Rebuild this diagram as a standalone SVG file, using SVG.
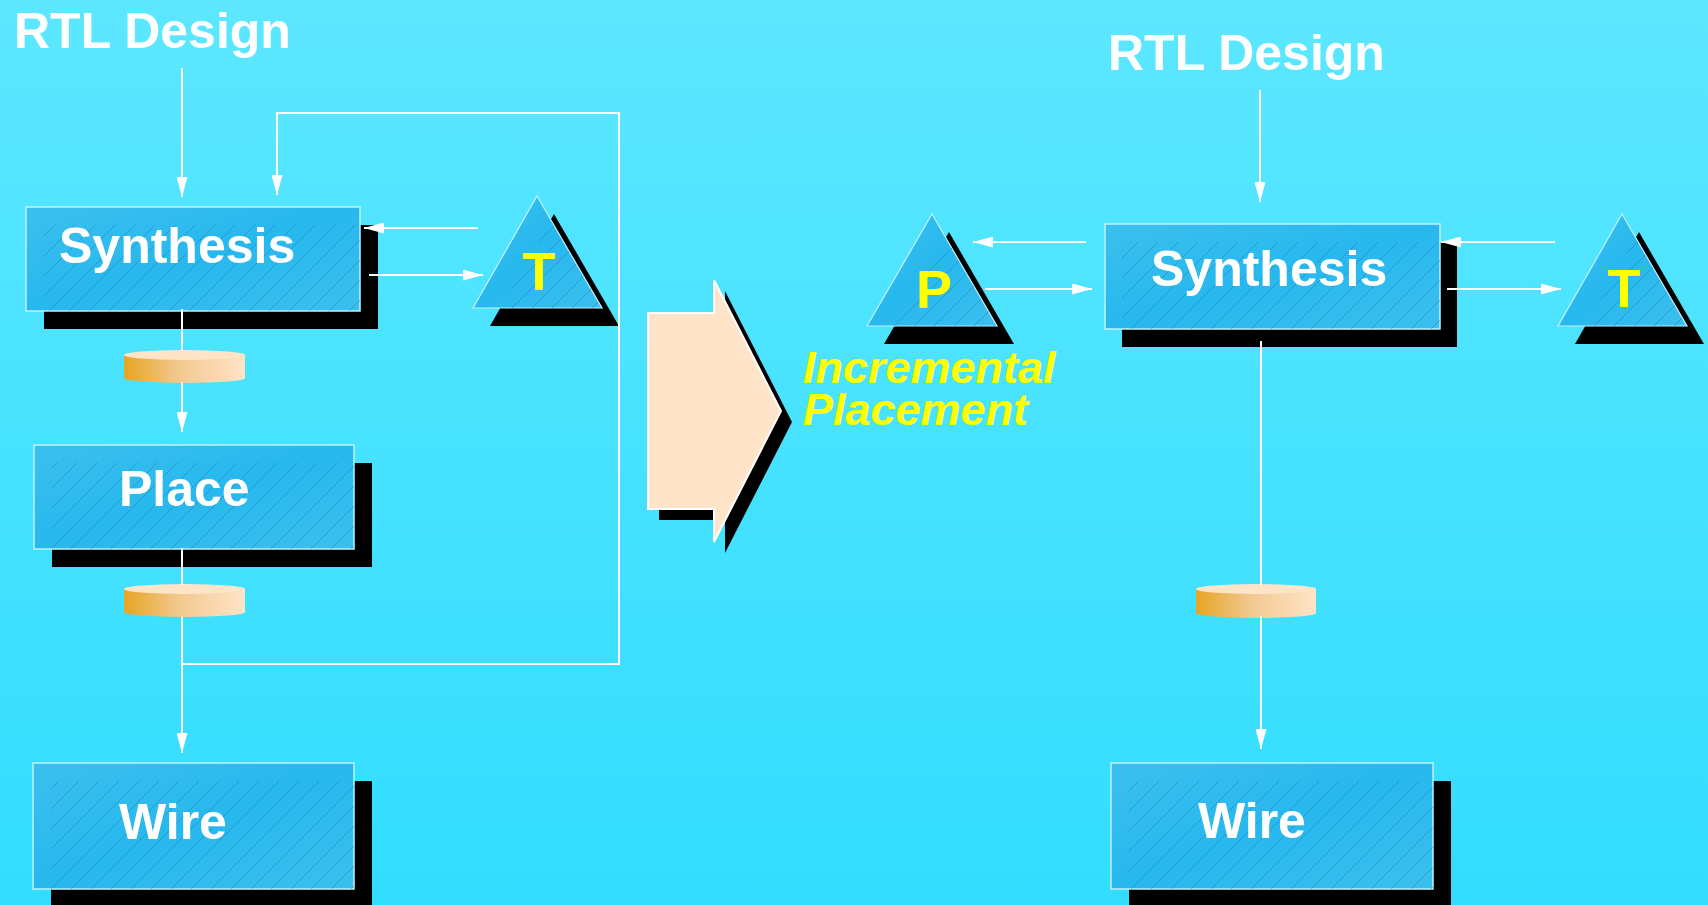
<svg xmlns="http://www.w3.org/2000/svg" width="1708" height="905" viewBox="0 0 1708 905">
<defs>
<linearGradient id="bg" x1="0" y1="0" x2="0" y2="1">
<stop offset="0" stop-color="#5CE7FF"/>
<stop offset="1" stop-color="#31DDFF"/>
</linearGradient>
<linearGradient id="boxg" x1="0" y1="0" x2="1" y2="1">
<stop offset="0" stop-color="#3BC0EE"/>
<stop offset="0.5" stop-color="#27B8EE"/>
<stop offset="1" stop-color="#3BC0EE"/>
</linearGradient>
<linearGradient id="cylg" x1="0" y1="0" x2="1" y2="0">
<stop offset="0" stop-color="#E6A423"/>
<stop offset="0.45" stop-color="#F2C88E"/>
<stop offset="1" stop-color="#FFE4C8"/>
</linearGradient>
<pattern id="hatch" patternUnits="userSpaceOnUse" width="20" height="20">
<path d="M0,20 L20,0 M-5,5 L5,-5 M15,25 L25,15" stroke="#1A6F98" stroke-width="0.7" stroke-opacity="0.6"/>
</pattern>
<marker id="ah" viewBox="0 0 20 11" refX="20" refY="5.5" markerWidth="20" markerHeight="11" markerUnits="userSpaceOnUse" orient="auto">
<path d="M0,0 L20,5.5 L0,11 Z" fill="#FFFFFF"/>
</marker>
<clipPath id="cpT1"><polygon points="537,196 602,308 473,308"/></clipPath>
<clipPath id="cpP"><polygon points="932,214 997,326 867,326"/></clipPath>
<clipPath id="cpT2"><polygon points="1622,214 1687,326 1558,326"/></clipPath>
</defs>
<style>
.shadow{fill:#000000}
.box{fill:url(#boxg);stroke:#BFF2FF;stroke-width:1.5}
.hatch{fill:url(#hatch)}
.lbl{font-family:"Liberation Sans",Arial,sans-serif;font-weight:bold;font-size:50px;fill:#FFFFFF}
.tl{font-family:"Liberation Sans",Arial,sans-serif;font-weight:bold;font-size:54px;fill:#FFFF00;text-anchor:middle}
.inc{font-family:"Liberation Sans",Arial,sans-serif;font-weight:bold;font-style:italic;font-size:45px;fill:#FFFF00}
.cn{fill:none;stroke:#FFFFFF;stroke-width:2}
.cyltop{fill:#FFE4C8}
</style>
<rect x="0" y="0" width="1708" height="905" fill="url(#bg)"/>

<g id="rtl-left"><text class="lbl" x="14" y="48">RTL Design</text></g>
<g id="rtl-right"><text class="lbl" x="1108" y="70">RTL Design</text></g>

<g id="synthesis-left">
<rect class="shadow" x="44" y="225" width="334" height="104"/>
<rect class="box" x="26" y="207" width="334" height="104"/>
<rect class="hatch" x="44" y="225" width="316" height="86"/>
<text class="lbl" x="59" y="263">Synthesis</text>
</g>

<g id="timing-left">
<polygon class="shadow" points="554,214 619,326 490,326"/>
<polygon points="537,196 602,308 473,308" fill="url(#boxg)" stroke="#BFF2FF" stroke-width="1.2"/>
<polygon class="hatch" points="554,214 619,326 490,326" clip-path="url(#cpT1)"/>
<text class="tl" x="539" y="290">T</text>
</g>

<g id="cyl-1">
<path d="M124,355 V378 A60.5,5 0 0 0 245,378 V355 Z" fill="url(#cylg)"/>
<ellipse class="cyltop" cx="184.5" cy="355" rx="60.5" ry="5"/>
</g>

<g id="place">
<rect class="shadow" x="52" y="463" width="320" height="104"/>
<rect class="box" x="34" y="445" width="320" height="104"/>
<rect class="hatch" x="52" y="463" width="302" height="86"/>
<text class="lbl" x="119" y="506">Place</text>
</g>

<g id="cyl-2">
<path d="M124,589 V612 A60.5,5 0 0 0 245,612 V589 Z" fill="url(#cylg)"/>
<ellipse class="cyltop" cx="184.5" cy="589" rx="60.5" ry="5"/>
</g>

<g id="wire-left">
<rect class="shadow" x="51" y="781" width="321" height="130"/>
<rect class="box" x="33" y="763" width="321" height="126"/>
<rect class="hatch" x="51" y="781" width="303" height="108"/>
<text class="lbl" x="119" y="839">Wire</text>
</g>

<g id="big-arrow">
<path class="shadow" d="M659,324 L725,324 L725,291 L792,422 L725,553 L725,520 L659,520 Z"/>
<path d="M648,313 L714,313 L714,280 L781,411 L714,542 L714,509 L648,509 Z" fill="#FFE4CA" stroke="#FFFFFF" stroke-width="2"/>
</g>

<g id="incremental-placement">
<text class="inc" x="803" y="383">Incremental</text>
<text class="inc" x="803" y="425">Placement</text>
</g>

<g id="placement-P">
<polygon class="shadow" points="949,232 1014,344 884,344"/>
<polygon points="932,214 997,326 867,326" fill="url(#boxg)" stroke="#BFF2FF" stroke-width="1.2"/>
<polygon class="hatch" points="949,232 1014,344 884,344" clip-path="url(#cpP)"/>
<text class="tl" x="934" y="308">P</text>
</g>

<g id="synthesis-right">
<rect class="shadow" x="1122" y="242" width="335" height="105"/>
<rect class="box" x="1105" y="224" width="335" height="105"/>
<rect class="hatch" x="1122" y="242" width="318" height="87"/>
<text class="lbl" x="1151" y="286">Synthesis</text>
</g>

<g id="timing-right">
<polygon class="shadow" points="1639,232 1704,344 1575,344"/>
<polygon points="1622,214 1687,326 1558,326" fill="url(#boxg)" stroke="#BFF2FF" stroke-width="1.2"/>
<polygon class="hatch" points="1639,232 1704,344 1575,344" clip-path="url(#cpT2)"/>
<text class="tl" x="1624" y="307">T</text>
</g>

<g id="cyl-right">
<path d="M1196,589 V613 A60,5 0 0 0 1316,613 V589 Z" fill="url(#cylg)"/>
<ellipse class="cyltop" cx="1256" cy="589" rx="60" ry="5"/>
</g>

<g id="wire-right">
<rect class="shadow" x="1129" y="781" width="322" height="130"/>
<rect class="box" x="1111" y="763" width="322" height="126"/>
<rect class="hatch" x="1129" y="781" width="304" height="108"/>
<text class="lbl" x="1198" y="838">Wire</text>
</g>

<g id="connectors">
<path class="cn" d="M182,68 V197" marker-end="url(#ah)"/>
<path class="cn" d="M182,309 V351"/>
<path class="cn" d="M182,382 V432" marker-end="url(#ah)"/>
<path class="cn" d="M182,548 V585"/>
<path class="cn" d="M182,616 V753" marker-end="url(#ah)"/>
<path class="cn" d="M182,664 H619 V113 H277 V195" marker-end="url(#ah)"/>
<path class="cn" d="M478,228 H364" marker-end="url(#ah)"/>
<path class="cn" d="M369,275 H483" marker-end="url(#ah)"/>
<path class="cn" d="M1260,90 V202" marker-end="url(#ah)"/>
<path class="cn" d="M1086,242 H973" marker-end="url(#ah)"/>
<path class="cn" d="M985,289 H1092" marker-end="url(#ah)"/>
<path class="cn" d="M1555,242 H1441" marker-end="url(#ah)"/>
<path class="cn" d="M1447,289 H1561" marker-end="url(#ah)"/>
<path class="cn" d="M1261,341 V585"/>
<path class="cn" d="M1261,616 V749" marker-end="url(#ah)"/>
</g>
</svg>
